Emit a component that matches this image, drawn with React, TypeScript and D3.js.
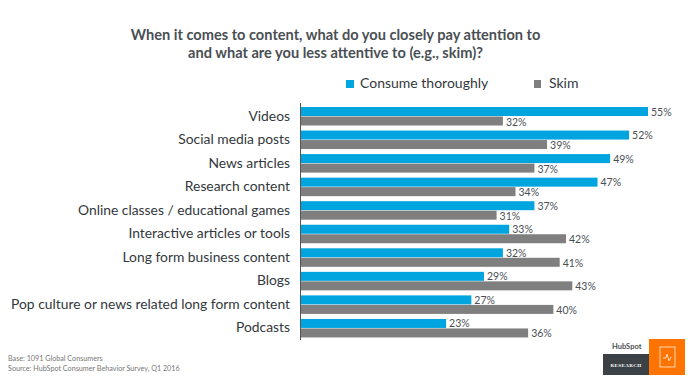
import React from "react";
import * as d3 from "d3";

const categories = ["Videos","Social media posts","News articles","Research content","Online classes / educational games","Interactive articles or tools","Long form business content","Blogs","Pop culture or news related long form content","Podcasts"];
const consume = [55,52,49,47,37,33,32,29,27,23];
const skim = [32,39,37,34,31,42,41,43,40,36];
const titleLines = ["When it comes to content, what do you closely pay attention to","and what are you less attentive to (e.g., skim)?"];
const footnotes = ["Base: 1091 Global Consumers","Source: HubSpot Consumer Behavior Survey, Q1 2016"];

const BLUE = "#00a4de";
const GREY = "#7f7f7f";
const font = "Lato, 'Open Sans', sans-serif";

export default function App() {
  const x = d3.scaleLinear().domain([0, 55]).range([301, 648]);
  const y = d3.scaleBand().domain(categories).range([104.5, 340]).paddingInner(0).paddingOuter(0);
  const barH = 9;
  return (
    <svg width={690} height={392} style={{ position: "absolute", left: 0, top: 0, background: "#fff" }} fontFamily={font}>
      {titleLines.map((t, i) => (
        <text key={t} x={335.5} y={40 + i * 18} textAnchor="middle" fontSize={14.6} fontWeight={700} fill="#4a4f54">{t}</text>
      ))}
      <rect x={346} y={80} width={8} height={8} fill={BLUE} />
      <text x={360} y={88} fontSize={14} fill="#33383c">Consume thoroughly</text>
      <rect x={534} y={80} width={7} height={8} fill={GREY} />
      <text x={549} y={88} fontSize={14} fill="#33383c">Skim</text>
      {categories.map((c, i) => {
        const y0 = y(c)!;
        return (
          <g key={c}>
            <text x={290} y={y0 + 16} textAnchor="end" fontSize={13.85} fill="#33383c">{c}</text>
            <rect x={x(0)} y={y0 + 2.5} width={x(consume[i]) - x(0)} height={barH} fill={BLUE} />
            <rect x={x(0)} y={y0 + 12} width={x(skim[i]) - x(0)} height={barH} fill={GREY} />
            <text x={x(consume[i]) + 3} y={y0 + 11} fontSize={10.5} fill="#4a4f54">{consume[i]}%</text>
            <text x={x(skim[i]) + 3} y={y0 + 21} fontSize={10.5} fill="#4a4f54">{skim[i]}%</text>
          </g>
        );
      })}
      <line x1={300.5} x2={300.5} y1={103} y2={340} stroke="#555" strokeWidth={1} />
      {footnotes.map((t, i) => (
        <text key={t} x={8} y={361 + i * 9.5} fontSize={7.2} fill="#777">{t}</text>
      ))}
      <text x={612} y={349} fontSize={7.5} fontWeight={700} fill="#4a4f54">HubSpot</text>
      <rect x={603} y={354} width={46} height={21} fill="#3b4144" />
      <text x={626} y={367} textAnchor="middle" fontSize={5} fontWeight={700} letterSpacing={0.4} fill="#fff" fontFamily="'Liberation Serif', serif">RESEARCH</text>
      <rect x={649} y={339} width={36} height={36} fill="#ff7300" />
      <rect x={660} y={347} width={15} height={20} fill="none" stroke="#ffd9b8" strokeWidth={1} />
      <path d={d3.line()([[663,358],[666,358],[667,354],[669,361],[671,357]]) ?? ""} fill="none" stroke="#ffd9b8" strokeWidth={1} />
    </svg>
  );
}
